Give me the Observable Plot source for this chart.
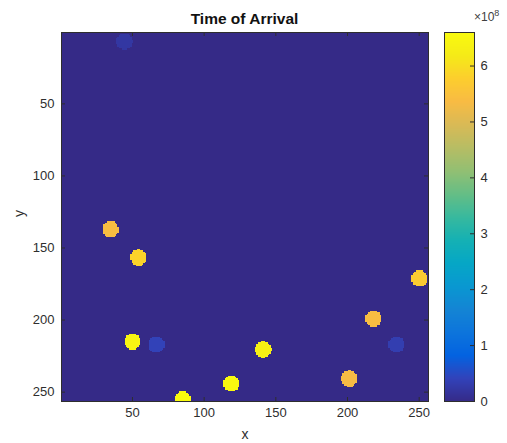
<!DOCTYPE html>
<html>
<head>
<meta charset="utf-8">
<script src="https://cdn.jsdelivr.net/npm/d3@7"></script>
<script src="https://cdn.jsdelivr.net/npm/@observablehq/plot@0.6"></script>
<style>
  html, body { margin: 0; padding: 0; background: #fff; }
  #wrap { position: relative; width: 507px; height: 443px; font-family: "Liberation Sans", Arial, Helvetica, sans-serif; }
  #wrap > * { position: absolute; }
  #title { left: 0; width: 489px; top: 10px; text-align: center; font-weight: bold; font-size: 15.5px; color: #111; }
  #exp { left: 474px; top: 8px; font-size: 12px; color: #404040; }
  #exp sup { font-size: 9px; }
</style>
</head>
<body>
<div id="wrap">
  <div id="title">Time of Arrival</div>
  <div id="exp">×10<sup>8</sup></div>
</div>
<script>
// ---- data ----
const dotX = [44.4, 34.7, 54.2, 50.0, 66.7, 84.9, 119.0, 141.4, 201.3, 218.1, 234.1, 250.1];
const dotY = [6.7, 137.2, 156.6, 214.9, 217.0, 255.2, 244.1, 220.5, 240.6, 199.0, 217.0, 171.2];
const dotValue = [0.22, 5.4, 5.85, 6.45, 0.4, 6.6, 6.55, 6.35, 5.35, 5.4, 0.33, 5.7]; // ×1e8
const xTicks = [50, 100, 150, 200, 250];
const yTicks = [50, 100, 150, 200, 250];
const colorTicks = [0, 1, 2, 3, 4, 5, 6]; // ×1e8
const backgroundValue = 0;
const valueMax = 6.6;   // ×1e8
const gridSize = 256;

// ---- appearance ----
const dotRadius = 5.7;
const scaleFactor = 1e8;
const parulaStops = ["#352a87","#3243ba","#0363e1","#0d75dc","#1485d4","#0998d1","#06a7c6","#15b1b4",
  "#38b99e","#65be86","#92bf73","#b7bd64","#d9ba56","#f8bb44","#fcce2e","#f5eb18","#f9fb0e"];
const parula = d3.piecewise(d3.interpolateRgb, parulaStops);
const ink = "#2e2e2e";
const font = "Liberation Sans, Arial, Helvetica, sans-serif";

const colorScale = {type: "linear", domain: [0, valueMax * scaleFactor], interpolate: () => parula};

const fieldAt = (x, y) => {
  for (let i = 0; i < dotX.length; i++) {
    const dx = x - dotX[i], dy = y - dotY[i];
    if (dx * dx + dy * dy <= dotRadius * dotRadius) return dotValue[i] * scaleFactor;
  }
  return backgroundValue;
};

const frameH = 443 - 32 - 42;
const main = Plot.plot({
  width: 507, height: 443,
  marginLeft: 61, marginRight: 79, marginTop: 32, marginBottom: 42,
  style: {fontFamily: font, fontSize: "13px", color: ink, background: "transparent", overflow: "visible"},
  x: {domain: [0.5, gridSize + 0.5], ticks: xTicks, tickSize: 0, tickPadding: 6, label: null},
  y: {domain: [0.5, gridSize + 0.5], reverse: true, ticks: yTicks, tickSize: 0, tickPadding: 7, label: null},
  color: colorScale,
  marks: [
    Plot.raster({fill: fieldAt, x1: 0.5, x2: gridSize + 0.5, y1: 0.5, y2: gridSize + 0.5,
      width: gridSize, height: gridSize, imageRendering: "pixelated"}),
    Plot.tickX(xTicks, {x: d => d, insetTop: frameH - 4, stroke: ink}),
    Plot.tickX(xTicks, {x: d => d, insetBottom: frameH - 4, stroke: ink}),
    Plot.tickY(yTicks, {y: d => d, insetRight: 367 - 4, stroke: ink}),
    Plot.tickY(yTicks, {y: d => d, insetLeft: 367 - 4, stroke: ink}),
    Plot.frame({stroke: ink, strokeWidth: 1}),
    Plot.text(["x"], {text: d => d, frameAnchor: "bottom", dy: 37, fontSize: 14, fill: ink}),
    Plot.text(["y"], {text: d => d, frameAnchor: "left", dx: -42, rotate: -90, fontSize: 14, fill: ink})
  ]
});
main.style.left = "0px"; main.style.top = "0px";

const bar = Plot.plot({
  width: 77, height: 443,
  marginLeft: 14, marginRight: 33, marginTop: 32, marginBottom: 42,
  style: {fontFamily: font, fontSize: "13px", color: ink, background: "transparent", overflow: "visible"},
  x: {domain: [0, 1], axis: null},
  y: {domain: [0, valueMax * scaleFactor], ticks: colorTicks.map(t => t * scaleFactor), tickFormat: d => d / scaleFactor,
      axis: "right", tickSize: 0, tickPadding: 6, label: null},
  color: colorScale,
  marks: [
    Plot.raster({fill: (x, y) => y, x1: 0, x2: 1, y1: 0, y2: valueMax * scaleFactor, width: 1, height: frameH}),
    Plot.tickY(colorTicks, {y: d => d * scaleFactor, insetLeft: 26, stroke: ink}),
    Plot.frame({stroke: ink, strokeWidth: 1})
  ]
});
bar.style.left = "430px"; bar.style.top = "0px";

const wrap = document.getElementById("wrap");
wrap.appendChild(main);
wrap.appendChild(bar);
</script>
</body>
</html>
